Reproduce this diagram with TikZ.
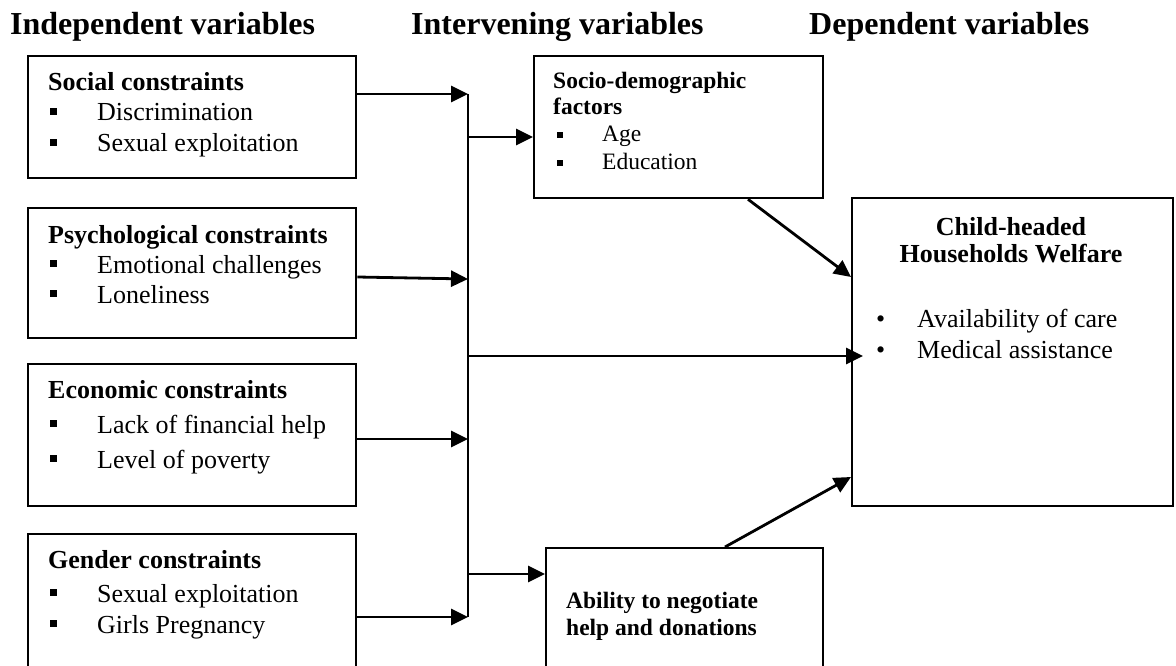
\documentclass[tikz,border=0pt]{standalone}
\usepackage{fontspec}
\setmainfont{Liberation Serif}
\usetikzlibrary{arrows.meta}
\newcommand\sqb{\makebox[47pt][l]{\rule[6pt]{7pt}{7pt}}}
\newcommand\sqs{\makebox[45pt][l]{\rule[4pt]{6pt}{6pt}}}
\newcommand\rdb{\makebox[41pt][l]{•}}
\begin{document}
\begin{tikzpicture}[x=1pt,y=-1pt,
  box/.style={draw,line width=2.3pt,rectangle,inner sep=0pt,anchor=north west},
  hdr/.style={anchor=base west,inner sep=0pt,font=\fontsize{32}{36}\selectfont\bfseries},
  txt/.style={anchor=base west,inner sep=0pt,font=\fontsize{26}{30}\selectfont},
  ttl/.style={txt,font=\fontsize{26}{30}\selectfont\bfseries},
  stxt/.style={anchor=base west,inner sep=0pt,font=\fontsize{23.5}{27}\selectfont},
  sttl/.style={stxt,font=\fontsize{23.5}{27}\selectfont\bfseries},
  ctl/.style={anchor=base,inner sep=0pt,font=\fontsize{26}{30}\selectfont\bfseries},
  conn/.style={line width=2.3pt},
  arr/.style={line width=2.8pt,-{Triangle[length=17pt,width=16pt]}}]
\useasboundingbox[fill=white] (0,0) rectangle (1176,666);
\clip (0,0) rectangle (1176,666);
% headers
\node[hdr] (h1) at (10,35) {Independent variables};
\node[hdr] (h2) at (411,35) {Intervening variables};
\node[hdr] (h3) at (809,35) {Dependent variables};
% boxes
\node[box,minimum width=328pt,minimum height=122pt] (b1) at (27,55) {};
\node[box,minimum width=328pt,minimum height=130pt] (b2) at (27,207) {};
\node[box,minimum width=328pt,minimum height=142pt] (b3) at (27,363) {};
\node[box,minimum width=328pt,minimum height=160pt] (b4) at (27,533) {};
\node[box,minimum width=289pt,minimum height=142pt] (soc) at (533,55) {};
\node[box,minimum width=277pt,minimum height=150pt] (abl) at (545,547) {};
\node[box,minimum width=321pt,minimum height=308pt] (main) at (851,197) {};
% texts
\node[ttl] (t1) at (48,91) {Social constraints};
\node[txt] (t1a) at (50,121) {\sqb Discrimination};
\node[txt] (t1b) at (50,152) {\sqb Sexual exploitation};
\node[ttl] (t2) at (48,243) {Psychological constraints};
\node[txt] (t2a) at (50,273) {\sqb Emotional challenges};
\node[txt] (t2b) at (50,303) {\sqb Loneliness};
\node[ttl] (t3) at (48,398) {Economic constraints};
\node[txt] (t3a) at (50,433) {\sqb Lack of financial help};
\node[txt] (t3b) at (50,468) {\sqb Level of poverty};
\node[ttl] (t4) at (48,568) {Gender constraints};
\node[txt] (t4a) at (50,602) {\sqb Sexual exploitation};
\node[txt] (t4b) at (50,633) {\sqb Girls Pregnancy};
\node[sttl] (s1) at (553,89) {Socio-demographic};
\node[sttl] (s2) at (553,115) {factors};
\node[stxt] (s3) at (557,142) {\sqs Age};
\node[stxt] (s4) at (557,170) {\sqs Education};
\node[sttl] (a1) at (566,608) {Ability to negotiate};
\node[sttl] (a2) at (566,635) {help and donations};
\node[ctl] (m1) at (1011,235) {Child-headed};
\node[ctl] (m2) at (1011,262) {Households Welfare};
\node[txt] (m3) at (876,327) {\rdb Availability of care};
\node[txt] (m4) at (876,358) {\rdb Medical assistance};
% bus
\coordinate (j1) at (468,94);
\coordinate (j2) at (468,137);
\coordinate (j3) at (468,279);
\coordinate (j4) at (468,356);
\coordinate (j5) at (468,439);
\coordinate (j6) at (468,574);
\coordinate (j7) at (468,617);
\coordinate (mt) at ([xshift=12pt]main.west |- j4);
\draw[conn] (j1) -- (j7);
\draw[arr] (b1.east |- j1) -- (j1);
\draw[arr] (j2) -- (soc.west |- j2);
\draw[arr] (b2.east |- 0,277) -- (j3);
\draw[arr] (j4) -- (mt);
\draw[arr] (b3.east |- j5) -- (j5);
\draw[arr] (j6) -- (abl.west |- j6);
\draw[arr] (b4.east |- j7) -- (j7);
\draw[arr] (soc.south -| 748,0) -- (main.west |- 0,277);
\draw[arr] (abl.north -| 725,0) -- (main.west |- 0,477);
\end{tikzpicture}
\end{document}
